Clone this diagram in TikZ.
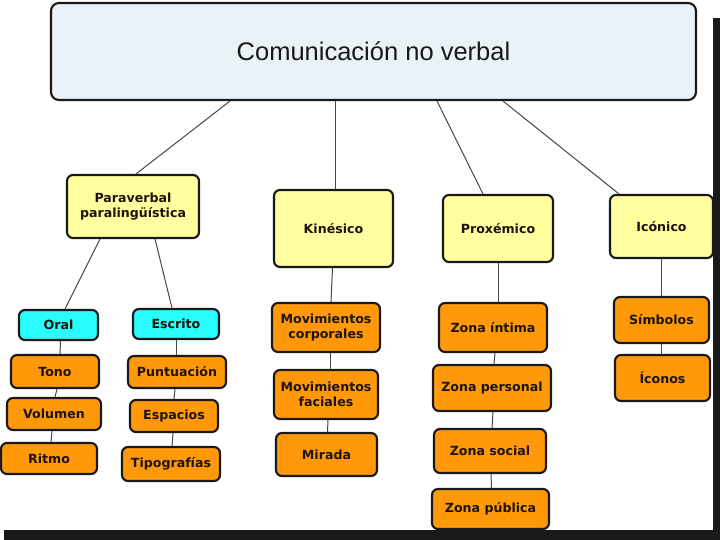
\documentclass[tikz,border=0pt]{standalone}
\usepackage{fontspec}
\setmainfont{DejaVu Sans}
\newfontfamily\titlefont{Liberation Sans}
\definecolor{titlefill}{RGB}{233,242,246}
\definecolor{yellowfill}{RGB}{255,255,160}
\definecolor{orangefill}{RGB}{255,153,10}
\definecolor{cyanfill}{RGB}{40,252,252}
\definecolor{edgecol}{RGB}{25,25,25}
\definecolor{linkcol}{RGB}{70,70,70}
\definecolor{txtcol}{RGB}{28,20,8}
\begin{document}
\begin{tikzpicture}[x=1pt,y=-1pt,
  base/.style={draw=edgecol, line width=2.1pt, rounded corners=6pt, inner sep=2pt, align=center,
    font=\bfseries\fontsize{12.6}{15.5}\selectfont, text=txtcol},
  titlebox/.style={base, fill=titlefill, rounded corners=8pt, font=\titlefont\fontsize{25.5}{30}\selectfont, text=black!90},
  ybox/.style={base, fill=yellowfill},
  obox/.style={base, fill=orangefill},
  cbox/.style={base, fill=cyanfill},
  link/.style={draw=linkcol, line width=1pt}]
\useasboundingbox (0,0) rectangle (720,540);
\fill[white] (0,0) rectangle (720,540);
\fill[black!90] (713,18) rectangle (720,540);
\fill[black!90] (4,530) rectangle (720,540);

\node[titlebox, minimum width=645pt, minimum height=97pt] (title) at (373.5,51.5) {Comunicación no verbal};

\node[ybox, minimum width=132pt, minimum height=63pt] (para) at (133,206.5) {Paraverbal\\paralingüística};
\node[ybox, minimum width=119pt, minimum height=77pt] (kin) at (333.5,228.5) {Kinésico};
\node[ybox, minimum width=110pt, minimum height=67pt] (prox) at (498,228.5) {Proxémico};
\node[ybox, minimum width=103pt, minimum height=63pt] (icon) at (661.5,226.5) {Icónico};

\node[cbox, minimum width=79pt, minimum height=30pt] (oral) at (58.5,325) {Oral};
\node[cbox, minimum width=86pt, minimum height=30pt] (escrito) at (176,324) {Escrito};

\node[obox, minimum width=88pt, minimum height=33pt] (tono) at (55,371.5) {Tono};
\node[obox, minimum width=94pt, minimum height=32pt] (volumen) at (54,414) {Volumen};
\node[obox, minimum width=96pt, minimum height=31pt] (ritmo) at (49,458.5) {Ritmo};

\node[obox, minimum width=98pt, minimum height=32pt] (punt) at (177,372) {Puntuación};
\node[obox, minimum width=88pt, minimum height=32pt] (esp) at (174,416) {Espacios};
\node[obox, minimum width=98pt, minimum height=34pt] (tipo) at (171,464) {Tipografías};

\node[obox, minimum width=108pt, minimum height=49pt] (movc) at (326,327.5) {Movimientos\\corporales};
\node[obox, minimum width=104pt, minimum height=49pt] (movf) at (326,394.5) {Movimientos\\faciales};
\node[obox, minimum width=101pt, minimum height=43pt] (mirada) at (326.5,454.5) {Mirada};

\node[obox, minimum width=108pt, minimum height=49pt] (zint) at (493,327.5) {Zona íntima};
\node[obox, minimum width=118pt, minimum height=46pt] (zper) at (492,388) {Zona personal};
\node[obox, minimum width=112pt, minimum height=44pt] (zsoc) at (490,451) {Zona social};
\node[obox, minimum width=117pt, minimum height=40pt] (zpub) at (490.5,509) {Zona pública};

\node[obox, minimum width=95pt, minimum height=46pt] (simb) at (661.5,320) {Símbolos};
\node[obox, minimum width=95pt, minimum height=46pt] (iconos) at (662.5,378) {Íconos};

\draw[link] ([xshift=-143.5pt]title.south) -- ([xshift=3pt]para.north);
\draw[link] ([xshift=-38.5pt]title.south) -- ([xshift=1.5pt]kin.north);
\draw[link] ([xshift=63.5pt]title.south) -- ([xshift=-15pt]prox.north);
\draw[link] ([xshift=129.5pt]title.south) -- ([xshift=-42.5pt]icon.north);

\draw[link] ([xshift=-33pt]para.south) -- ([xshift=6.5pt]oral.north);
\draw[link] ([xshift=22pt]para.south) -- ([xshift=-4pt]escrito.north);

\draw[link] ([xshift=2pt]oral.south) -- ([xshift=5pt]tono.north);
\draw[link] ([xshift=2pt]tono.south) -- ([xshift=1pt]volumen.north);
\draw[link] ([xshift=-2pt]volumen.south) -- ([xshift=2pt]ritmo.north);

\draw[link] ([xshift=0pt]escrito.south) -- ([xshift=-1pt]punt.north);
\draw[link] ([xshift=-2pt]punt.south) -- ([xshift=0pt]esp.north);
\draw[link] ([xshift=-1pt]esp.south) -- ([xshift=1pt]tipo.north);

\draw[link] ([xshift=-1pt]kin.south) -- ([xshift=5pt]movc.north);
\draw[link] ([xshift=4pt]movc.south) -- ([xshift=4pt]movf.north);
\draw[link] ([xshift=2pt]movf.south) -- ([xshift=1pt]mirada.north);

\draw[link] ([xshift=0pt]prox.south) -- ([xshift=5pt]zint.north);
\draw[link] ([xshift=2pt]zint.south) -- ([xshift=2pt]zper.north);
\draw[link] ([xshift=1pt]zper.south) -- ([xshift=2pt]zsoc.north);
\draw[link] ([xshift=1pt]zsoc.south) -- ([xshift=1pt]zpub.north);

\draw[link] ([xshift=0pt]icon.south) -- ([xshift=0pt]simb.north);
\draw[link] ([xshift=0pt]simb.south) -- ([xshift=-1pt]iconos.north);
\end{tikzpicture}
\end{document}
